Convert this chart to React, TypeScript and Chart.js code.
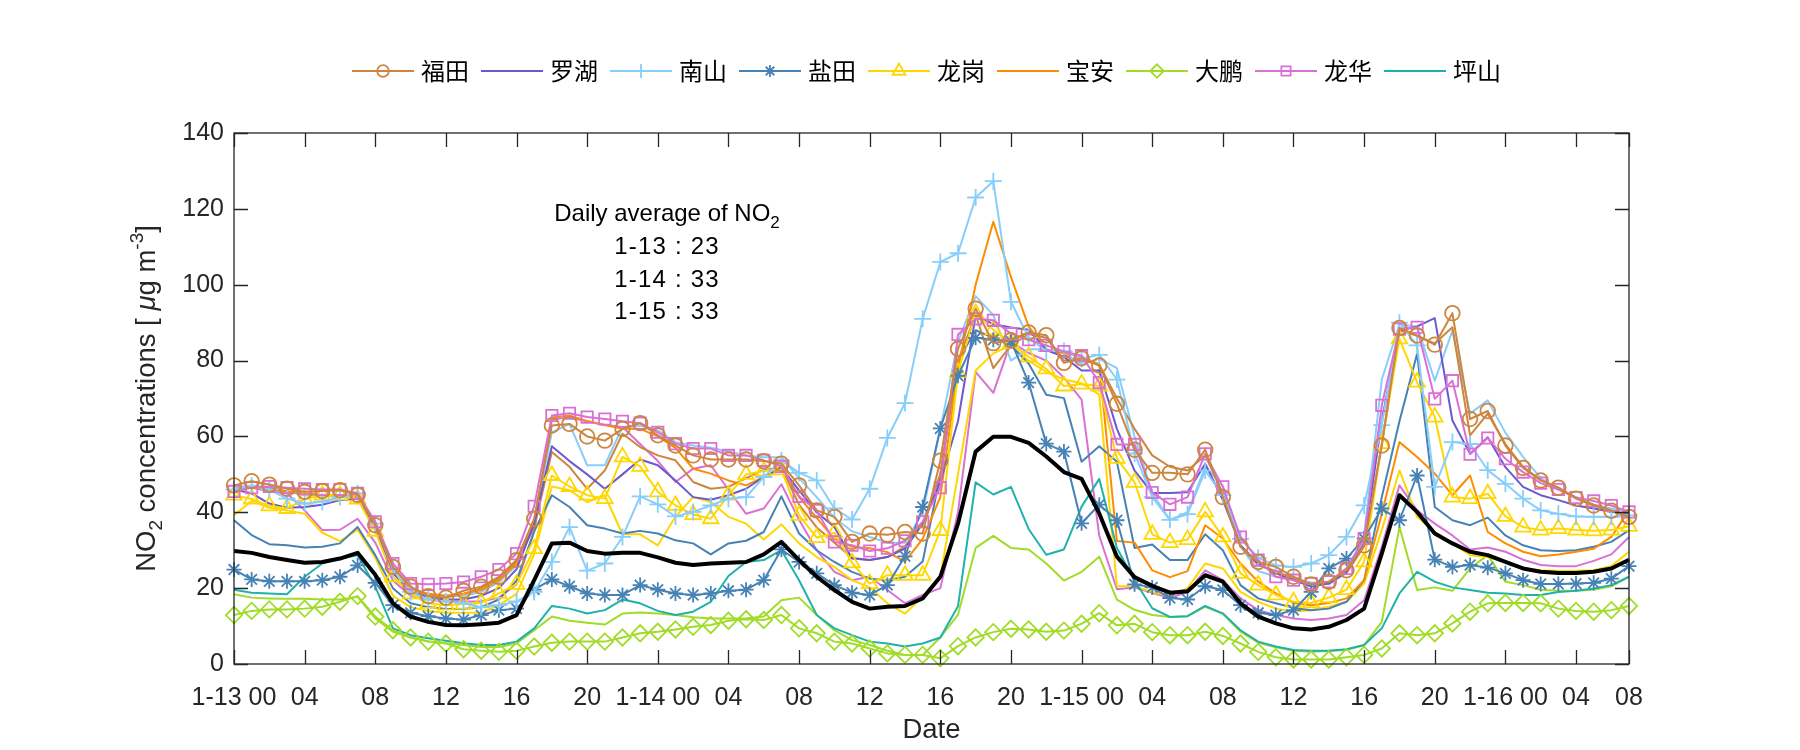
import { useEffect, useRef } from 'react';
import { Chart, registerables } from 'chart.js';

Chart.register(...registerables);

// ---------- categories / ticks ----------
const hours = Array.from({ length: 80 }, (_, i) => i);
const xTickHours = [0, 4, 8, 12, 16, 20, 24, 28, 32, 36, 40, 44, 48, 52, 56, 60, 64, 68, 72, 76, 79];
const xTickLabels = ['1-13 00', '04', '08', '12', '16', '20', '1-14 00', '04', '08', '12', '16', '20',
  '1-15 00', '04', '08', '12', '16', '20', '1-16 00', '04', '08'];
const yMin = 0;
const yMax = 140;
const yStep = 20;

const dailyAvgDays = ['1-13', '1-14', '1-15'];
const dailyAvgValues = [23, 33, 33];

// ---------- series (hourly NO2, µg m-3) ----------
const futian = [47.1, 48.2, 47.3, 46.2, 45.4, 45.6, 45.8, 44.6, 36.6, 25.6, 20.4, 17.9, 17.5, 19.3,
  20.4, 23, 27.4, 38.3, 62.9, 63.3, 60, 58.9, 62, 63.5, 60.3, 57.6, 55,
  53.9, 53.9, 53.9, 53.5, 52.8, 47.1, 40.5, 38.8, 32.2, 34.4, 34.1, 34.8, 34.4,
  53.6, 83.1, 93.7, 84.6, 85.4, 87.4, 86.7, 79.4, 80.6, 78.7, 68.6, 56.5, 50.4, 50.4, 50,
  56.5, 44, 30.9, 26.9, 25.6, 23, 21, 21.7, 24.7, 31.3, 57.6, 88.6, 86.6,
  84.2, 92.5, 64.6, 66.7, 57.6, 51.7, 48.4, 46.5, 43.6, 41.8, 40.4, 38.8];
const futianB = [46, 47, 46.5, 45.5, 45, 44.5, 44.5, 44, 36, 25, 19.5, 18, 17.5, 18.5,
  20, 22.5, 27, 36, 55.9, 52, 46.2, 51, 60.7, 57.2, 55, 53.7, 48,
  46.2, 46.7, 49, 51.2, 51.8, 42, 36, 32, 28, 27.4, 28.2, 31, 37.2,
  50, 80, 92, 78, 84, 87, 86, 80, 80, 79, 70, 62, 55, 52, 51,
  55, 45, 31, 26, 24.5, 22.5, 21, 21.5, 24, 31, 58, 88, 86.5,
  84.5, 88.8, 60.3, 66, 58, 52, 48.5, 46.5, 43.8, 42, 40.5, 39];
const luohu = [46, 45, 42.3, 41.2, 41.4, 42, 43.2, 43.6, 36, 24, 19, 17.5, 17, 17,
  18, 20, 25, 37, 57.4, 53.5, 50, 46.2, 50, 53.9, 52.4, 48.4, 44,
  43.3, 44.5, 46.2, 49.3, 51.8, 45.8, 40, 36.1, 27.8, 27.4, 28.2, 30.4, 37,
  48, 64, 91.9, 89.6, 88.7, 88.1, 82.8, 81, 77.4, 77.4, 62, 51, 45.1, 45.1, 45.3,
  52.8, 43.2, 31.3, 26.5, 23.9, 22.1, 20.4, 21.2, 24.3, 31.8, 64.2, 87.9, 89,
  91.2, 64.2, 55.4, 59.8, 51.9, 46.7, 44.5, 43.2, 41.8, 41, 40.1, 39.6];
const nanshan = [46, 47, 46, 43.6, 42.3, 42.8, 44, 45, 37, 25, 19, 17, 16.5, 16,
  15, 15.5, 16.5, 19, 26.9, 36.1, 24.6, 26.5, 33.5, 44.2, 42.1, 38.9, 40.1,
  41.8, 43.6, 44, 49.3, 53.7, 50.4, 48.4, 41, 38.1, 46.2, 59.6, 68.8, 91,
  106, 108.3, 123, 127.3, 95.5, 86, 82.5, 82.5, 80.5, 81.5, 75, 55.5, 44, 38, 39.5,
  51, 44.5, 33, 28, 26, 25.6, 26.5, 28.7, 33.5, 41.8, 63, 90, 84,
  46.7, 58.5, 58, 51.1, 47.5, 43.6, 40.5, 39.6, 38.9, 38.8, 38.8, 39.2];
const nanshanB = [46.5, 47, 46.5, 45.5, 44.5, 44.5, 44.5, 44.5, 37, 25, 20, 18.5, 18, 18,
  19, 21.5, 26, 38, 61.1, 63.3, 52.4, 52.4, 62.5, 62.9, 61.6, 58.5, 57.6,
  57, 56, 55, 54.5, 54.5, 49, 44, 38.5, 35, 33.5, 32, 32, 40,
  62, 85, 97, 92, 80, 83, 83, 82, 79, 80.5, 78, 60, 45, 38, 40,
  52, 47, 31, 24.5, 23, 22.5, 21.5, 21, 24, 34, 75, 89.5, 89,
  74.7, 87.9, 66, 69.5, 61, 54.6, 49, 46, 44, 42, 41, 40];
const yantian = [24.9, 22.3, 21.8, 21.8, 21.8, 22.1, 23, 26, 21.4, 15.5, 13.5, 12.6, 12, 11.7,
  12.9, 14.2, 14.6, 19.6, 22.3, 20.5, 18.6, 18.2, 18.2, 20.8, 19.6, 18.6, 18.2,
  18.6, 19.3, 19.6, 22.1, 30.2, 26.9, 23.9, 20.8, 18.8, 18.2, 20.8, 28.4, 41.4,
  62.1, 76, 86, 85.5, 85.1, 74.2, 58.1, 56, 37.1, 42, 37.9, 21, 20.2, 17.4, 17,
  20.5, 19.5, 15.5, 13.5, 12.9, 14.2, 19, 25.2, 27.8, 33.1, 41, 37.9, 49.7,
  27.5, 25.6, 26.1, 25.4, 23.9, 22.1, 21.1, 21.1, 21.2, 21.4, 22.5, 25.8];
const yantianB = [37.9, 34, 31.6, 31.3, 30.7, 30.9, 31.8, 36.1, 28.7, 20, 16, 15, 14.5, 14.5,
  15, 17, 22, 35, 44.5, 41.4, 36.6, 35.7, 34.4, 35.1, 34.4, 32.6, 31.8,
  28.9, 31.8, 32.5, 34.8, 44.2, 34.4, 30, 26.9, 24.3, 22.5, 22.1, 23, 27,
  50, 80, 88, 86, 84, 79.2, 71, 70.1, 53.3, 57.4, 53.3, 30.6, 31.5, 27.4, 27.4,
  34.2, 30, 20.8, 17.3, 16, 14.8, 14.2, 14.6, 16.4, 22.1, 44, 64, 81.8,
  41.4, 37.9, 36.6, 38.6, 33.9, 31.3, 30, 29.8, 30, 30.9, 32.2, 35.3];
const longgang = [44.5, 43.5, 41.7, 41, 43.5, 44.5, 44.5, 43.5, 35, 23, 18.5, 16, 15.5, 15.8,
  16.1, 18.6, 21, 30.4, 49.7, 46.8, 44.5, 43.6, 54.6, 52.1, 45.4, 41.8, 39.4,
  38.3, 44.5, 50, 50.9, 51.2, 39.2, 33.3, 34.6, 26.7, 21.2, 23.4, 23.4, 23.4,
  35.2, 76.9, 92.4, 88.1, 84.6, 81, 77.8, 73.3, 73.8, 73.3, 54.2, 47.9, 34.2, 32, 32.8,
  40.1, 33.5, 23.9, 20.8, 18.2, 16.4, 16.1, 17.5, 19.6, 26.9, 58.1, 85.7, 74.3,
  65.1, 44, 43.6, 44.9, 38.9, 36.1, 35.3, 35.7, 35.3, 35.1, 35.3, 36.3];
const longgangB = [39.2, 43, 41.2, 40.5, 39.6, 34.6, 32.4, 35.4, 28, 18, 15, 14, 13.5, 13.5,
  13.5, 15.5, 18.5, 29, 46.8, 45.8, 42.7, 44.5, 34.2, 34.2, 31.3, 38.8, 44,
  42.7, 38.8, 37, 32.8, 36.8, 31.8, 28.2, 25.6, 22.1, 20.2, 16, 13.3, 17.7,
  23, 50, 77.4, 81.9, 84, 80, 77, 75, 74, 71, 20.5, 20.5, 19, 18, 20,
  26.5, 25.2, 19, 16.4, 14.6, 13.8, 14.2, 15.1, 16.4, 21.2, 35.3, 51.1, 38.8,
  34.8, 31.8, 28.7, 28.2, 26.9, 25.2, 24.7, 24.6, 24.6, 24.7, 25.8, 29.6];
const baoan = [46, 46.5, 46, 45.5, 45, 44.5, 44.5, 44.5, 36, 25, 20, 18.5, 18, 18.5,
  19.5, 22, 26.5, 37, 65, 65.5, 64, 63, 62, 62, 60, 57, 51.5,
  50.2, 48.4, 47.1, 49.3, 51.8, 44, 38.5, 33, 30.9, 30.5, 29.5, 27, 33,
  44, 78, 100, 116.6, 102, 89, 82.8, 82, 81, 79, 32.4, 32, 24.7, 22.9, 24.5,
  36.6, 33.1, 26.5, 21.7, 18.6, 16.1, 15.5, 16.1, 17.3, 22.1, 39.6, 58.5, 54.6,
  50.2, 44.5, 49.7, 34.8, 31.8, 29.6, 28.4, 28.9, 29.6, 30.4, 33.5, 40.5];
const dapeng = [12.9, 14, 14.4, 14.4, 14.6, 15.1, 16.4, 17.9, 12.5, 8.9, 7, 5.9, 5.4, 3.9,
  3.5, 3.2, 3.5, 4.6, 5.6, 5.9, 5.9, 5.9, 7, 8.1, 8.5, 9.1, 9.8,
  10.3, 11.4, 11.8, 11.6, 12.9, 9.4, 8.1, 5.9, 5.4, 4.1, 2.8, 2.4, 2.4,
  1.5, 4.7, 7, 8.4, 9.3, 9.1, 8.5, 8.8, 10.6, 13.4, 10.2, 10.6, 8.4, 7.6, 7.6,
  8.5, 7.4, 5.4, 3.2, 1.8, 1.2, 1.2, 1.2, 1.8, 2.4, 4.1, 8.1, 7.6,
  8.1, 10.7, 13.8, 16, 16.1, 16.1, 16, 14.6, 14, 13.8, 14.2, 15.3];
const dapengB = [18.4, 17.5, 17.3, 17.2, 17.2, 17, 17, 17.7, 12, 8.5, 7, 6, 5.5, 5,
  4.5, 4.5, 5.4, 8.9, 12.5, 11.4, 10.9, 10.4, 13.3, 13.6, 13.3, 12.9, 12.3,
  12, 12, 12, 12.5, 16.8, 17.5, 12.9, 8.9, 6.3, 5, 3.5, 2.4, 2.4,
  7, 13, 30.6, 33.8, 30.6, 30.2, 26.5, 22, 24.3, 28.3, 17, 14.3, 12.9, 12.4, 12.6,
  15.1, 13.3, 8.5, 5.6, 4.4, 3.5, 3.2, 3.4, 3.7, 5, 11.1, 36.1, 19.5,
  20.2, 19.3, 25.2, 28.7, 21.7, 20.8, 19.6, 19.3, 19.3, 19.6, 20.5, 23];
const longhua = [45.5, 46.5, 46.8, 46.5, 46.2, 46, 46, 45, 37.5, 26.5, 21.2, 21, 21.2, 21.6,
  23, 24.9, 29.1, 41.6, 65.5, 66.1, 65.1, 64.6, 64, 63.5, 61.1, 58.1, 56.8,
  56.8, 55, 55, 53.7, 52.1, 44.2, 40.5, 32.2, 31.3, 29.8, 30.5, 32.5, 37.5,
  46.5, 86.9, 91, 90.6, 87.1, 85.5, 84, 82.4, 81.3, 74.2, 57.9, 57.9, 45.2, 42.1, 44,
  55.4, 46.7, 33.5, 27.4, 23, 22.1, 21.2, 21.7, 25.2, 33.1, 68.2, 88.3, 88.8,
  69.9, 74.7, 55.3, 59.6, 54.1, 50.6, 47.7, 46, 43.9, 43, 41.8, 40.1];
const longhuaB = [46, 46.5, 45.5, 45, 40.5, 35.3, 35.4, 38.3, 32, 22, 18, 17, 16.5, 16.5,
  16.5, 17.5, 21, 35, 64.5, 65, 64, 63, 62.5, 58, 53.5, 48, 51.5,
  52.4, 46, 39.6, 41, 47.4, 38, 30, 24.3, 22.1, 23, 19.5, 16, 18.2,
  20, 40, 77, 71.5, 85, 82, 80, 75.5, 69.7, 33.8, 19.7, 20.2, 18.8, 17.4, 19,
  24.7, 22.1, 17.3, 14.2, 12.9, 12, 11.6, 12, 12.9, 16.8, 30.9, 47.1, 40.5,
  37, 33.9, 30.2, 30.7, 29.6, 27.5, 26.1, 25.8, 25.8, 27.2, 28.9, 33.5];
const pingshan = [19.6, 18.8, 18.6, 18.4, 23, 26.5, 27.8, 28.7, 20.4, 9.4, 7.6, 6.8, 6.1, 5.5,
  5, 5, 5.9, 9.4, 15.3, 14.6, 13.3, 14.2, 17, 16, 14, 12.9, 13.8,
  16.4, 23.2, 26.9, 27.4, 30, 22.1, 12.9, 9.4, 7.6, 5.9, 5.4, 4.6, 5.4,
  7, 15.2, 47.9, 44.7, 46.7, 35.6, 28.8, 30.2, 41.5, 48.8, 30.6, 22, 14.7, 12.4, 12.6,
  15.3, 13.3, 8.9, 5.9, 4.6, 3.7, 3.5, 3.5, 3.9, 5, 9.4, 18.6, 24.3,
  21.7, 20.2, 19.5, 18.8, 18.6, 18.2, 18.2, 19, 19.3, 19.9, 20.8, 23];
const cityAverage = [29.8, 29.3, 28.2, 27.4, 26.7, 26.9, 27.8, 29.3, 23.5, 16, 12.5, 11.1, 10.3, 10.2,
  10.5, 10.9, 12.9, 22.1, 31.8, 32, 29.8, 29.1, 29.3, 29.3, 28.1, 26.7, 26.1,
  26.5, 26.7, 26.9, 28.9, 32.2, 27.4, 23, 19.5, 16.4, 14.6, 15.1, 15.3, 17.3,
  23, 37, 56, 59.9, 59.9, 58.3, 54.7, 50.6, 48.8, 39.7, 28.3, 22.9, 20.6, 18.8, 19.2,
  23.4, 21.7, 16, 12.5, 10.7, 9.4, 9.1, 9.8, 11.6, 14.6, 29.1, 44.5, 40.1,
  34.4, 31.8, 29.6, 28.7, 26.9, 25.2, 24.3, 24, 24, 24.3, 25.2, 27.5];

// ---------- styles ----------
const LATIN = '"Liberation Sans", Arial, Helvetica, sans-serif';
const CJK = '"Noto Sans CJK SC", "Noto Sans", sans-serif';
const AXIS_COLOR = '#262626';
const TICK_FONT = 25;
const LABEL_FONT = 27.5;
const COLORS = {
  futian: '#CD853F', luohu: '#6A5ACD', nanshan: '#87CEFA', yantian: '#4682B4', longgang: '#FFD700',
  baoan: '#FF8C00', dapeng: '#A0DC28', longhua: '#DA70D6', pingshan: '#20B2AA',
};

type Marker = 'circle' | 'cross' | 'star' | 'triangle' | 'rectRot' | 'rect' | null;
const MARKER_R: Record<string, number> = { circle: 7.3, cross: 8.5, star: 7.5, triangle: 9, rectRot: 8.2, rect: 8 };

const legendItems: { name: string; color: string; marker: Marker }[] = [
  { name: '福田', color: COLORS.futian, marker: 'circle' },
  { name: '罗湖', color: COLORS.luohu, marker: null },
  { name: '南山', color: COLORS.nanshan, marker: 'cross' },
  { name: '盐田', color: COLORS.yantian, marker: 'star' },
  { name: '龙岗', color: COLORS.longgang, marker: 'triangle' },
  { name: '宝安', color: COLORS.baoan, marker: null },
  { name: '大鹏', color: COLORS.dapeng, marker: 'rectRot' },
  { name: '龙华', color: COLORS.longhua, marker: 'rect' },
  { name: '坪山', color: COLORS.pingshan, marker: null },
];

function lineDs(label: string, data: number[], color: string, marker: Marker, width = 2) {
  return {
    label,
    data,
    borderColor: color,
    backgroundColor: 'rgba(0,0,0,0)',
    borderWidth: width,
    pointStyle: marker || 'circle',
    pointRadius: marker ? MARKER_R[marker] : 0,
    pointHoverRadius: marker ? MARKER_R[marker] : 0,
    pointBorderColor: color,
    pointBackgroundColor: 'rgba(0,0,0,0)',
    pointBorderWidth: 1.8,
    tension: 0,
    fill: false,
    clip: false as const,
  };
}

function markerPath(ctx: CanvasRenderingContext2D, style: Marker, x: number, y: number, r: number) {
  ctx.beginPath();
  switch (style) {
    case 'circle': ctx.arc(x, y, r, 0, Math.PI * 2); break;
    case 'rect': { const s = r * Math.SQRT1_2; ctx.rect(x - s, y - s, 2 * s, 2 * s); break; }
    case 'rectRot': ctx.moveTo(x - r, y); ctx.lineTo(x, y - r); ctx.lineTo(x + r, y); ctx.lineTo(x, y + r); ctx.closePath(); break;
    case 'triangle': {
      let a = 0;
      ctx.moveTo(x + Math.sin(a) * r, y - Math.cos(a) * r);
      a += (2 * Math.PI) / 3; ctx.lineTo(x + Math.sin(a) * r, y - Math.cos(a) * r);
      a += (2 * Math.PI) / 3; ctx.lineTo(x + Math.sin(a) * r, y - Math.cos(a) * r);
      ctx.closePath(); break;
    }
    case 'cross': ctx.moveTo(x, y - r); ctx.lineTo(x, y + r); ctx.moveTo(x - r, y); ctx.lineTo(x + r, y); break;
    case 'star': {
      ctx.moveTo(x, y - r); ctx.lineTo(x, y + r); ctx.moveTo(x - r, y); ctx.lineTo(x + r, y);
      const d = r * Math.SQRT1_2;
      ctx.moveTo(x - d, y - d); ctx.lineTo(x + d, y + d); ctx.moveTo(x + d, y - d); ctx.lineTo(x - d, y + d);
      break;
    }
    default: break;
  }
  ctx.stroke();
}

type Seg = { t: string; size: number; dy?: number; italic?: boolean };
function drawRich(ctx: CanvasRenderingContext2D, segs: Seg[], cx: number, baseY: number, spacing = 0) {
  (ctx as any).letterSpacing = `${spacing}px`;
  const widths = segs.map((s) => {
    ctx.font = `${s.italic ? 'italic ' : ''}${s.size}px ${LATIN}`;
    return ctx.measureText(s.t).width;
  });
  const total = widths.reduce((a, b) => a + b, 0);
  let x = cx - total / 2;
  segs.forEach((s, i) => {
    ctx.font = `${s.italic ? 'italic ' : ''}${s.size}px ${LATIN}`;
    ctx.fillText(s.t, x, baseY + (s.dy || 0));
    x += widths[i];
  });
  (ctx as any).letterSpacing = '0px';
}

const framePlugin = {
  id: 'matlabFrame',
  afterDatasetsDraw(chart: any) {
    const { ctx, chartArea: a, scales } = chart;
    const x = scales.x; const y = scales.y;
    const TL = 14;
    ctx.save();
    ctx.strokeStyle = AXIS_COLOR;
    ctx.lineWidth = 1.3;
    ctx.beginPath();
    xTickHours.forEach((v) => {
      const px = Math.round(x.getPixelForValue(v)) + 0.5;
      ctx.moveTo(px, a.bottom); ctx.lineTo(px, a.bottom - TL);
      ctx.moveTo(px, a.top); ctx.lineTo(px, a.top + TL);
    });
    y.ticks.forEach((t: any) => {
      const py = Math.round(y.getPixelForValue(t.value)) + 0.5;
      ctx.moveTo(a.left, py); ctx.lineTo(a.left + TL, py);
      ctx.moveTo(a.right, py); ctx.lineTo(a.right - TL, py);
    });
    ctx.stroke();
    ctx.strokeRect(a.left, a.top, a.right - a.left, a.bottom - a.top);
    ctx.restore();
  },
};

const textPlugin = {
  id: 'richTexts',
  afterDraw(chart: any) {
    const { ctx, chartArea: a } = chart;
    ctx.save();
    ctx.fillStyle = '#000000';
    ctx.textBaseline = 'alphabetic';
    ctx.textAlign = 'left';
    // annotation
    const cx = 667;
    drawRich(ctx, [{ t: 'Daily average of NO', size: 24 }, { t: '2', size: 17, dy: 7 }], cx, 221);
    dailyAvgDays.forEach((d, i) => {
      drawRich(ctx, [{ t: `${d} : ${dailyAvgValues[i]}`, size: 24 }], cx, 254 + i * 32.5, 1.2);
    });
    // y-axis title
    ctx.fillStyle = AXIS_COLOR;
    ctx.translate(155, (a.top + a.bottom) / 2);
    ctx.rotate(-Math.PI / 2);
    drawRich(ctx, [
      { t: 'NO', size: LABEL_FONT }, { t: '2', size: 19, dy: 7 }, { t: ' concentrations [ ', size: LABEL_FONT },
      { t: 'μ', size: LABEL_FONT, italic: true }, { t: 'g m', size: LABEL_FONT }, { t: '-3', size: 19, dy: -12 }, { t: ']', size: LABEL_FONT },
    ], 0, 0);
    ctx.restore();

    // legend
    ctx.save();
    const lineLen = 62; const gapText = 7; const gapItem = 12;
    ctx.font = `24px ${CJK}`;
    const widths = legendItems.map((it) => ctx.measureText(it.name).width);
    const total = widths.reduce((s, w) => s + lineLen + gapText + w, 0) + gapItem * (legendItems.length - 1);
    let x = (a.left + a.right) / 2 - total / 2 - 5;
    const ly = 71;
    legendItems.forEach((it, i) => {
      ctx.strokeStyle = it.color;
      ctx.lineWidth = 2;
      ctx.beginPath(); ctx.moveTo(x, ly); ctx.lineTo(x + lineLen, ly); ctx.stroke();
      if (it.marker) {
        ctx.lineWidth = 1.8;
        markerPath(ctx, it.marker, x + lineLen / 2, ly, MARKER_R[it.marker] - 1.5);
      }
      ctx.fillStyle = '#000000';
      ctx.textBaseline = 'middle';
      ctx.textAlign = 'left';
      ctx.font = `24px ${CJK}`;
      ctx.fillText(it.name, x + lineLen + gapText, ly);
      x += lineLen + gapText + widths[i] + gapItem;
    });
    ctx.restore();
  },
};

export default function App() {
  const canvasRef = useRef<HTMLCanvasElement | null>(null);

  useEffect(() => {
    document.body.style.margin = '0';
    const canvas = canvasRef.current;
    if (!canvas) return;
    const datasets: any[] = [
      lineDs('平均', cityAverage, '#000000', null, 4),
      lineDs('福田', futian, COLORS.futian, 'circle'),
      lineDs('龙华', longhua, COLORS.longhua, 'rect'),
      lineDs('南山', nanshan, COLORS.nanshan, 'cross'),
      lineDs('盐田', yantian, COLORS.yantian, 'star'),
      lineDs('龙岗', longgang, COLORS.longgang, 'triangle'),
      lineDs('大鹏', dapeng, COLORS.dapeng, 'rectRot'),
      lineDs('罗湖', luohu, COLORS.luohu, null),
      lineDs('宝安', baoan, COLORS.baoan, null),
      lineDs('坪山', pingshan, COLORS.pingshan, null),
      lineDs('福田2', futianB, COLORS.futian, null),
      lineDs('南山2', nanshanB, COLORS.nanshan, null),
      lineDs('盐田2', yantianB, COLORS.yantian, null),
      lineDs('龙岗2', longgangB, COLORS.longgang, null),
      lineDs('大鹏2', dapengB, COLORS.dapeng, null),
      lineDs('龙华2', longhuaB, COLORS.longhua, null),
    ];
    const chart = new Chart(canvas, {
      type: 'line',
      data: { labels: hours, datasets },
      plugins: [framePlugin, textPlugin],
      options: {
        responsive: false,
        animation: false,
        devicePixelRatio: 1,
        layout: { padding: { left: 0, right: 171, top: 133, bottom: 0 } },
        plugins: { legend: { display: false }, tooltip: { enabled: false }, title: { display: false } },
        elements: { line: { borderJoinStyle: 'round' } },
        scales: {
          x: {
            type: 'linear',
            min: 0,
            max: 79,
            grid: { display: false, drawTicks: false },
            border: { display: false },
            afterBuildTicks: (scale: any) => { scale.ticks = xTickHours.map((v) => ({ value: v })); },
            afterFit: (scale: any) => { scale.height = 86; },
            ticks: {
              autoSkip: false,
              maxRotation: 0,
              minRotation: 0,
              padding: 19,
              color: AXIS_COLOR,
              font: { family: LATIN, size: TICK_FONT },
              callback: (v: any) => { const i = xTickHours.indexOf(Number(v)); return i >= 0 ? xTickLabels[i] : ''; },
            },
            title: { display: true, text: 'Date', color: AXIS_COLOR, font: { family: LATIN, size: LABEL_FONT }, padding: { top: 0, bottom: 3 } },
          },
          y: {
            min: yMin,
            max: yMax,
            grid: { display: false, drawTicks: false },
            border: { display: false },
            afterFit: (scale: any) => { scale.width = 234; },
            ticks: { stepSize: yStep, padding: 10, color: AXIS_COLOR, font: { family: LATIN, size: TICK_FONT } },
          },
        },
      } as any,
    });
    return () => chart.destroy();
  }, []);

  return (
    <div style={{ position: 'fixed', left: 0, top: 0, width: 1800, height: 750, background: '#ffffff' }}>
      <canvas ref={canvasRef} width={1800} height={750} />
    </div>
  );
}
